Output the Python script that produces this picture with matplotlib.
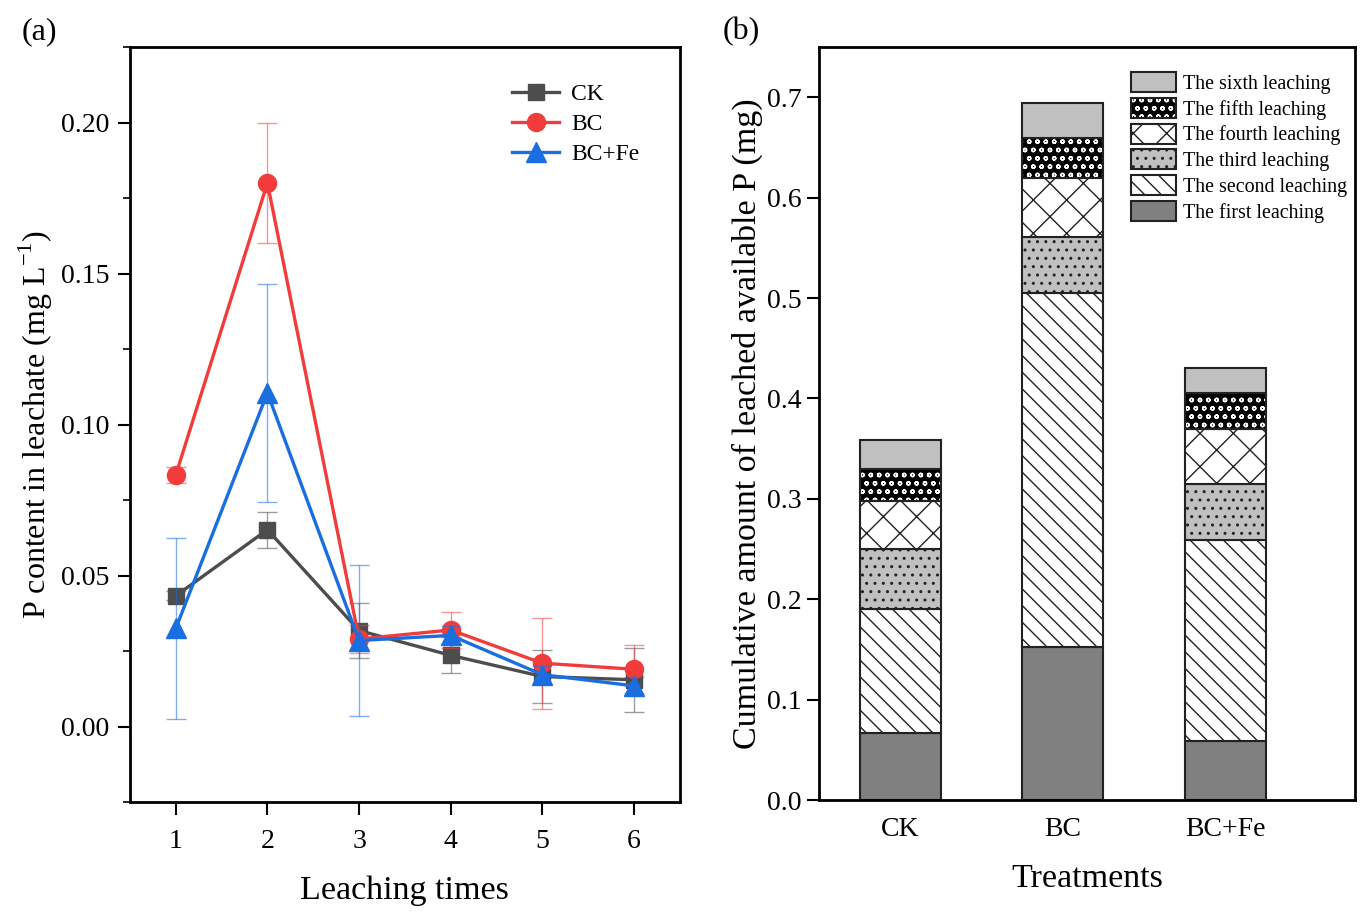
import matplotlib
matplotlib.use('Agg')
import matplotlib.pyplot as plt
from matplotlib.patches import Patch
from matplotlib.ticker import MultipleLocator
import numpy as np

plt.rcParams['font.family'] = 'Liberation Serif'
plt.rcParams['mathtext.fontset'] = 'custom'
plt.rcParams['mathtext.rm'] = 'Liberation Serif'
plt.rcParams['hatch.linewidth'] = 1.0

# (a) P content in leachate
times = [1, 2, 3, 4, 5, 6]
ck = [0.0433, 0.0652, 0.0318, 0.0236, 0.0166, 0.0155]
ck_err = [0.0015, 0.0060, 0.0090, 0.0060, 0.0088, 0.0105]
bc = [0.0833, 0.1800, 0.0290, 0.0320, 0.0210, 0.0190]
bc_err = [0.0025, 0.0200, 0.0045, 0.0060, 0.0150, 0.0080]
bcfe = [0.0325, 0.1105, 0.0285, 0.0302, 0.0172, 0.0135]
bcfe_err = [0.0300, 0.0360, 0.0250, 0.0030, 0.0030, 0.0030]

# (b) cumulative leached available P, per leaching event
treatments = ['CK', 'BC', 'BC+Fe']
leach1 = [0.067, 0.152, 0.059]
leach2 = [0.123, 0.353, 0.200]
leach3 = [0.060, 0.056, 0.056]
leach4 = [0.048, 0.059, 0.055]
leach5 = [0.032, 0.039, 0.035]
leach6 = [0.029, 0.035, 0.025]
leach_names = ['The first leaching', 'The second leaching', 'The third leaching',
               'The fourth leaching', 'The fifth leaching', 'The sixth leaching']

fig = plt.figure(figsize=(13.71, 9.22), dpi=100)
ax1 = fig.add_axes([0.0948, 0.130, 0.401, 0.819])
ax2 = fig.add_axes([0.5974, 0.1323, 0.391, 0.8167])

series = [(ck, ck_err, '#4d4d4d', 's', 'CK', 11),
          (bc, bc_err, '#f23c3c', 'o', 'BC', 13),
          (bcfe, bcfe_err, '#1a6ee0', '^', 'BC+Fe', 14)]
for vals, err, col, mk, lab, ms in series:
    ax1.errorbar(times, vals, yerr=err, fmt='none', ecolor=col, alpha=0.55,
                 elinewidth=1.0, capsize=7, capthick=1.0)
    ax1.plot(times, vals, color=col, marker=mk, ms=ms, lw=2.4, label=lab)

ax1.set_xlim(0.5, 6.5)
ax1.set_ylim(-0.025, 0.225)
ax1.set_xticks(times)
ax1.set_yticks([0.0, 0.05, 0.10, 0.15, 0.20])
ax1.set_yticklabels(['0.00', '0.05', '0.10', '0.15', '0.20'])
ax1.yaxis.set_minor_locator(MultipleLocator(0.025))
ax1.tick_params(which='major', direction='out', length=9, width=1.5, labelsize=20, pad=6)
ax1.tick_params(which='minor', direction='out', length=5, width=1.2)
ax1.tick_params(axis='x', pad=10)
for s in ax1.spines.values():
    s.set_linewidth(2)
ax1.set_xlabel('Leaching times', fontsize=24.5, labelpad=16)
ax1.set_ylabel('P content in leachate (mg L$^{-1}$)', fontsize=23, labelpad=4)
ax1.legend(loc='upper right', bbox_to_anchor=(0.965, 0.98), frameon=False,
           fontsize=17, handlelength=2.0, handletextpad=0.5, labelspacing=0.36)

x = np.arange(len(treatments))
w = 0.5
styles = [('#808080', ''), ('white', '\\\\'), ('#c0c0c0', '..'),
          ('white', 'x'), ('black', 'oo'), ('#c0c0c0', '')]
bottom = np.zeros(len(treatments))
handles = []
for vals, (fc, hatch), name in zip([leach1, leach2, leach3, leach4, leach5, leach6],
                                   styles, leach_names):
    vals = np.array(vals)
    if fc == 'black':
        ax2.bar(x, vals, w, bottom=bottom, color='black', edgecolor='white',
                hatch=hatch, lw=0)
        ax2.bar(x, vals, w, bottom=bottom, fill=False, edgecolor='#222222', lw=1.5)
        h = (Patch(facecolor='black', edgecolor='white', hatch=hatch, lw=0),
             Patch(fill=False, edgecolor='#222222', lw=1.5))
    else:
        ax2.bar(x, vals, w, bottom=bottom, color=fc, edgecolor='#222222',
                hatch=hatch, lw=1.5)
        h = Patch(facecolor=fc, edgecolor='#222222', hatch=hatch, lw=1.5)
    handles.append(h)
    bottom += vals

ax2.set_xlim(-0.5, 2.8)
ax2.set_ylim(0, 0.75)
ax2.set_xticks(x)
ax2.set_xticklabels(treatments)
ax2.yaxis.set_major_locator(MultipleLocator(0.1))
ax2.tick_params(axis='y', direction='out', length=9, width=1.5, labelsize=20)
ax2.tick_params(axis='x', length=0, labelsize=20, pad=12)
for s in ax2.spines.values():
    s.set_linewidth(2)
ax2.set_xlabel('Treatments', fontsize=24.5, labelpad=16)
ax2.set_ylabel('Cumulative amount of leached available P (mg)', fontsize=24.5, labelpad=3)
ax2.legend(handles[::-1], leach_names[::-1], loc='upper right',
           bbox_to_anchor=(1.0, 0.977), frameon=False, fontsize=14.4,
           handlelength=2.25, handleheight=1.15, handletextpad=0.35,
           labelspacing=0.2, borderaxespad=0.0)

fig.text(0.016, 0.966, '(a)', fontsize=23, va='center')
fig.text(0.527, 0.966, '(b)', fontsize=23, va='center')

fig.savefig('out.png', dpi=100)
